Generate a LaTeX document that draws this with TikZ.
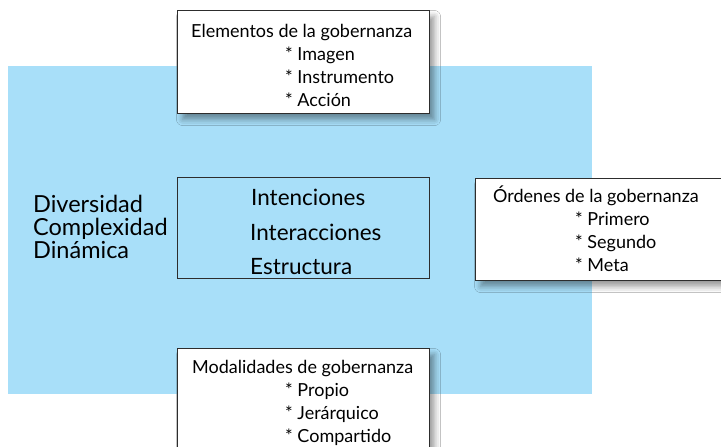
\documentclass[tikz,border=0pt]{standalone}
\usepackage{fontspec}
\setmainfont{Lato}
\usetikzlibrary{shadows.blur}
\definecolor{skyfill}{RGB}{168,223,249}
\definecolor{edgecol}{RGB}{45,45,45}
\tikzset{
  panel/.style={fill=white, draw=edgecol, line width=1.1pt, anchor=north west,
    blur shadow={shadow xshift=5pt, shadow yshift=-6pt, shadow blur radius=6pt, shadow opacity=40}},
  core/.style={draw=edgecol, line width=1.1pt, anchor=north west},
  lbl/.style={anchor=base west, inner sep=0pt, text=black, font=\fontsize{18}{21}\selectfont},
  big/.style={anchor=base west, inner sep=0pt, text=black, font=\fontsize{22.5}{26}\selectfont},
  side/.style={anchor=base west, inner sep=0pt, text=black, font=\fontsize{23.5}{26}\selectfont},
}
\begin{document}
\begin{tikzpicture}[x=1pt,y=-1pt]
\clip (0,0) rectangle (721,447);
\fill[white] (0,0) rectangle (721,447);
\fill[skyfill] (8,66) rectangle (592,394);
% top box
\node[panel, minimum width=252pt, minimum height=103pt] (elem) at (177,10) {};
\node[lbl] (elem0) at (191,37) {Elementos de la gobernanza};
\node[lbl] (elem1) at (285,60) {* Imagen};
\node[lbl] (elem2) at (285,83) {* Instrumento};
\node[lbl] (elem3) at (285,106) {* Acción};
% right box
\node[panel, minimum width=260pt, minimum height=102pt] (ord) at (475,178) {};
\node[lbl] (ord0) at (493,202) {Órdenes de la gobernanza};
\node[lbl] (ord1) at (575,225) {* Primero};
\node[lbl] (ord2) at (575,248) {* Segundo};
\node[lbl] (ord3) at (575,271) {* Meta};
% bottom box
\node[panel, minimum width=252pt, minimum height=110pt] (mod) at (177,348) {};
\node[lbl] (mod0) at (192,373) {Modalidades de gobernanza};
\node[lbl] (mod1) at (285,396) {* Propio};
\node[lbl] (mod2) at (285,419) {* Jerárquico};
\node[lbl] (mod3) at (285,442) {* Compartido};
% center box
\node[core, minimum width=252pt, minimum height=101pt] (core) at (177,177) {};
\node[big] (c1) at (251,205) {Intenciones};
\node[big] (c2) at (250,240) {Interacciones};
\node[big] (c3) at (250,274) {Estructura};
% left text
\node[side] (l1) at (33,212) {Diversidad};
\node[side] (l2) at (33,235) {Complexidad};
\node[side] (l3) at (33,258) {Dinámica};
\end{tikzpicture}
\end{document}
